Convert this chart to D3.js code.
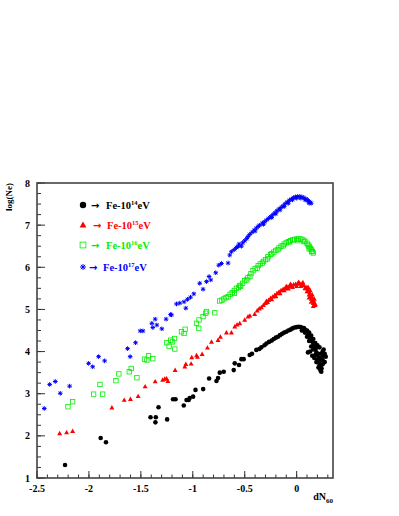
<!DOCTYPE html>
<html><head><meta charset="utf-8">
<script src="https://cdn.jsdelivr.net/npm/d3@7"></script>
<style>body{margin:0;background:#fff}svg{display:block}text{font-family:"Liberation Serif","Times New Roman",serif;font-weight:bold}</style>
</head><body>
<script>
// ---- data ----
const xTicks = [-2.5, -2, -1.5, -1, -0.5, 0];
const xTickLabels = ["-2.5", "-2", "-1.5", "-1", "-0.5", "0"];
const yTicks = [1, 2, 3, 4, 5, 6, 7, 8];
const yTickLabels = ["1", "2", "3", "4", "5", "6", "7", "8"];
const seriesNames = ["14", "15", "16", "17"];
const seriesColors = ["#000000", "#ff0000", "#00ee00", "#0000ff"];

const fe14 = [[-2.23,1.31],[-1.887,1.95],[-1.836,1.85],[-1.407,2.44],[-1.356,2.44],[-1.36,2.32],[-1.33,2.68],[-1.247,2.39],[-1.19,2.87],[-1.166,2.87],[-1.087,2.72],[-1.06,2.85],[-1.04,2.85],[-1.03,2.9],[-0.997,2.93],[-0.974,3.09],
[-0.90,3.11],[-0.843,3.36],[-0.772,3.30],[-0.757,3.37],[-0.74,3.50],[-0.702,3.52],[-0.606,3.56],[-0.596,3.72],[-0.555,3.68],[-0.532,3.82],[-0.51,3.82],[-0.452,3.92],[-0.43,3.95],[-0.388,4.04],[-0.36,4.06],[-0.34,4.10],[-0.31,4.15],[-0.291,4.19],[-0.266,4.23],[-0.24,4.26],[-0.22,4.30],[-0.2,4.33],[-0.18,4.35],[-0.16,4.39],[-0.14,4.42],[-0.12,4.45],[-0.10,4.47],[-0.08,4.50],[-0.06,4.52],[-0.04,4.55],[-0.02,4.57],[0.0,4.58],[0.02,4.59],[0.04,4.58],[0.06,4.56],[0.08,4.52],[0.09,4.48],[0.10,4.45],[0.11,4.40],[0.12,4.36],[0.13,4.32],[0.14,4.28],[0.15,4.24],[0.16,4.18],[0.17,4.12],[0.18,4.05],[0.19,3.98],[0.20,3.92],[0.21,3.84],[0.22,3.76],[0.23,3.66],[0.237,3.52],[0.24,3.60],
[0.05,4.50],[0.08,4.45],[0.10,4.35],[0.12,4.25],[0.14,4.12],[0.16,4.05],[0.18,3.92],[0.2,3.80],[0.22,3.68],[0.109,3.98],[0.13,4.0],[0.15,3.9],[0.17,3.85],[0.19,3.75],[0.21,3.62],[0.23,3.55],[0.25,3.8],[0.26,3.9],[0.27,3.75],[0.28,3.88],[0.25,4.0],[0.26,4.05],[0.22,4.1],[0.2,4.15],[0.24,3.95],[0.18,4.2],[0.16,4.3],[0.14,4.38],[0.12,4.45],[0.1,4.5],[0.07,4.56],[0.27,3.95],[0.25,3.7],[0.23,3.85],[0.21,3.95],[0.19,4.1],[0.17,4.2]];

const fe15 = [[-2.282,2.06],[-2.215,2.08],[-2.157,2.11],[-1.779,2.67],[-1.66,2.85],[-1.6,2.87],[-1.526,2.94],[-1.459,3.17],[-1.362,3.29],[-1.29,3.33],[-1.27,3.35],[-1.253,3.36],[-1.24,3.30],[-1.17,3.56],[-1.077,3.64],[-1.067,3.70],[-1.016,3.71],[-1.01,3.86],[-0.964,3.91],[-0.955,3.87],[-0.91,3.94],[-0.859,4.09],[-0.82,4.23],[-0.757,4.27],[-0.734,4.35],[-0.676,4.45],[-0.628,4.45],[-0.596,4.59],[-0.574,4.64],[-0.548,4.67],[-0.50,4.75],[-0.468,4.83],[-0.45,4.85],[-0.404,4.89],[-0.38,4.97],
[-0.36,5.02],[-0.34,5.05],[-0.32,5.10],[-0.30,5.15],[-0.291,5.20],[-0.27,5.22],[-0.25,5.27],[-0.23,5.30],[-0.21,5.34],[-0.19,5.38],[-0.17,5.42],[-0.15,5.45],[-0.13,5.48],[-0.11,5.50],[-0.09,5.53],[-0.07,5.55],[-0.05,5.57],[-0.03,5.59],[-0.01,5.60],[0.01,5.61],[0.03,5.61],[0.05,5.60],[0.07,5.57],[0.09,5.53],[0.10,5.50],[0.11,5.46],[0.12,5.42],[0.13,5.37],[0.14,5.32],[0.15,5.27],[0.16,5.22],[0.17,5.16],[0.175,5.10],
[-0.28,5.17],[-0.24,5.24],[-0.2,5.31],[-0.16,5.38],[-0.12,5.45],[-0.08,5.49],[-0.04,5.53],[0.0,5.55],[0.04,5.55],[0.08,5.50],[0.1,5.43],[0.12,5.35],[0.14,5.25],[0.16,5.15],[0.18,5.12],[0.17,5.25],[0.15,5.35],[0.13,5.45],[0.11,5.53],[-0.1,5.55],[-0.06,5.60],[0.02,5.65],[0.06,5.64],[0.16,5.08],[0.14,5.18],[0.12,5.28]];

const fe16 = [[-2.202,2.69],[-2.157,2.81],[-1.955,2.99],[-1.868,2.99],[-1.894,3.22],[-1.74,3.31],[-1.712,3.47],[-1.612,3.52],[-1.593,3.60],[-1.538,3.38],[-1.465,3.82],[-1.442,3.80],[-1.426,3.90],[-1.385,3.83],[-1.25,4.21],[-1.228,4.13],[-1.212,4.27],[-1.195,4.23],[-1.176,4.31],[-1.173,4.06],[-1.109,4.47],[-1.084,4.43],[-1.074,4.53],[-0.964,4.67],[-0.942,4.55],[-0.94,4.75],[-0.901,4.83],[-0.875,4.91],[-0.868,4.95],[-0.788,4.92],[-0.74,5.20],
[-0.70,5.25],[-0.68,5.28],[-0.66,5.30],[-0.62,5.40],[-0.60,5.45],[-0.58,5.50],[-0.55,5.57],[-0.52,5.62],[-0.50,5.68],[-0.47,5.75],[-0.44,5.85],[-0.42,5.92],[-0.40,5.97],[-0.37,6.04],[-0.35,6.08],[-0.32,6.14],[-0.30,6.18],[-0.276,6.25],[-0.25,6.30],[-0.22,6.36],[-0.20,6.40],[-0.17,6.46],[-0.15,6.50],[-0.12,6.55],[-0.10,6.58],[-0.08,6.61],[-0.06,6.63],[-0.04,6.65],[-0.02,6.66],[0.0,6.67],[0.02,6.67],[0.04,6.67],[0.06,6.65],[0.08,6.62],[0.10,6.57],[0.12,6.50],[0.13,6.46],[0.14,6.42],[0.15,6.38],[0.16,6.34],
[-0.64,5.36],[-0.56,5.52],[-0.48,5.70],[-0.45,5.78],[-0.38,5.98],[-0.33,6.10],[-0.28,6.20],[-0.24,6.32],[-0.18,6.42],[-0.13,6.51],[-0.07,6.60],[0.01,6.63],[0.07,6.61],[0.11,6.53],[0.145,6.37],[0.12,6.44],[-0.72,5.22],[-0.6,5.38],[-0.54,5.55]];

const fe17 = [[-2.43,2.65],[-2.378,3.22],[-2.324,3.29],[-2.276,3.01],[-2.186,3.18],[-2.003,3.72],[-1.964,3.64],[-1.907,3.88],[-1.849,3.78],[-1.628,4.07],[-1.603,3.88],[-1.551,4.21],[-1.506,4.49],[-1.48,4.49],[-1.394,4.67],[-1.385,4.57],[-1.362,4.77],[-1.346,4.63],[-1.298,4.54],[-1.257,4.77],[-1.214,4.88],[-1.205,4.87],[-1.157,5.13],[-1.125,5.15],[-1.084,5.18],[-1.067,5.03],[-1.051,5.24],[-1.022,5.29],[-0.99,5.37],[-0.933,5.62],[-0.901,5.48],[-0.868,5.66],[-0.843,5.78],[-0.827,5.70],[-0.779,5.87],[-0.75,6.05],[-0.724,6.09],[-0.66,6.10],[-0.644,6.29],[-0.628,6.37],[-0.555,6.55],[-0.532,6.50],
[-0.60,6.42],[-0.58,6.47],[-0.50,6.63],[-0.468,6.73],[-0.452,6.78],[-0.43,6.83],[-0.41,6.88],[-0.388,6.93],[-0.37,6.97],[-0.356,7.00],[-0.33,7.05],[-0.308,7.08],[-0.29,7.12],[-0.27,7.16],[-0.25,7.20],[-0.228,7.25],[-0.21,7.29],[-0.19,7.34],[-0.17,7.38],[-0.15,7.42],[-0.13,7.46],[-0.11,7.51],[-0.09,7.55],[-0.07,7.59],[-0.05,7.62],[-0.03,7.65],[-0.01,7.67],[0.01,7.68],[0.03,7.68],[0.05,7.67],[0.07,7.65],[0.09,7.62],[0.10,7.60],[0.11,7.58],[0.12,7.56],[0.13,7.54],[0.14,7.52],
[-0.48,6.68],[-0.40,6.86],[-0.32,7.02],[-0.24,7.18],[-0.2,7.27],[-0.16,7.36],[-0.12,7.44],[-0.08,7.52],[-0.04,7.6],[0.0,7.64],[0.04,7.64],[0.08,7.6],[0.12,7.52],[-0.52,6.58],[-0.56,6.5]];

// ---- layout ----
const W = 399, H = 516;
const M = {left: 37, right: 333, top: 183, bottom: 478};
const svg = d3.select("body").append("svg").attr("width", W).attr("height", H);

const x = d3.scaleLinear().domain([-2.5, 0.35]).range([M.left, M.right]);
const y = d3.scaleLinear().domain([1, 8]).range([M.bottom, M.top]);

// minor ticks
const xMinor = d3.range(-25, 4).map(d => d / 10);
const yMinor = d3.range(4, 33).map(d => d / 4);

const gx = svg.append("g").attr("transform", `translate(0,${M.bottom})`);
gx.selectAll("line.mi").data(xMinor).join("line")
  .attr("x1", d => x(d)).attr("x2", d => x(d)).attr("y1", 0).attr("y2", -3.5)
  .attr("stroke", "#333").attr("stroke-width", 1);
gx.selectAll("line.ma").data(xTicks).join("line")
  .attr("x1", d => x(d)).attr("x2", d => x(d)).attr("y1", 0).attr("y2", -7)
  .attr("stroke", "#333").attr("stroke-width", 1);
gx.selectAll("text").data(xTicks).join("text")
  .attr("x", d => x(d)).attr("y", 14).attr("text-anchor", "middle")
  .attr("font-size", 10).text((d, i) => xTickLabels[i]);

const gy = svg.append("g").attr("transform", `translate(${M.left},0)`);
gy.selectAll("line.mi").data(yMinor).join("line")
  .attr("x1", 0).attr("x2", 4).attr("y1", d => y(d)).attr("y2", d => y(d))
  .attr("stroke", "#333").attr("stroke-width", 1);
gy.selectAll("line.ma").data(yTicks).join("line")
  .attr("x1", 0).attr("x2", 8).attr("y1", d => y(d)).attr("y2", d => y(d))
  .attr("stroke", "#333").attr("stroke-width", 1);
gy.selectAll("text").data(yTicks).join("text")
  .attr("x", -7).attr("y", d => y(d) + 3.5).attr("text-anchor", "end")
  .attr("font-size", 10).text((d, i) => yTickLabels[i]);

// frame
svg.append("rect").attr("x", M.left).attr("y", M.top)
  .attr("width", M.right - M.left).attr("height", M.bottom - M.top)
  .attr("fill", "none").attr("stroke", "#444").attr("stroke-width", 1.6);

// axis titles
svg.append("text").attr("transform", `translate(12,${M.top}) rotate(-90)`)
  .attr("text-anchor", "end").attr("font-size", 9).text("log(Ne)");
const xt = svg.append("text").attr("x", M.right).attr("y", 500).attr("text-anchor", "end").attr("font-size", 10);
xt.append("tspan").text("dN");
xt.append("tspan").attr("font-size", 7).attr("dy", 2.5).text("60");

// markers
function drawCircle(g, cx, cy, r, c) {
  g.append("circle").attr("cx", cx).attr("cy", cy).attr("r", r).attr("fill", c);
}
function drawTri(g, cx, cy, s, c) {
  g.append("path").attr("d", `M${cx},${cy - s}L${cx + s * 0.95},${cy + s * 0.7}L${cx - s * 0.95},${cy + s * 0.7}Z`).attr("fill", c);
}
function drawSq(g, cx, cy, s, c) {
  g.append("rect").attr("x", cx - s).attr("y", cy - s).attr("width", 2 * s).attr("height", 2 * s)
    .attr("fill", "none").attr("stroke", c).attr("stroke-width", 0.8);
}
function drawStar(g, cx, cy, s, c) {
  const d = s * 0.72;
  g.append("path").attr("d",
    `M${cx - s},${cy}L${cx + s},${cy}M${cx},${cy - s}L${cx},${cy + s}M${cx - d},${cy - d}L${cx + d},${cy + d}M${cx - d},${cy + d}L${cx + d},${cy - d}`)
    .attr("stroke", c).attr("stroke-width", 1).attr("fill", "none");
}
const drawers = [drawCircle, drawTri, drawSq, drawStar];
const sizes = [2.3, 2.6, 2.2, 2.3];
const allSeries = [fe14, fe15, fe16, fe17];

const plot = svg.append("g");
allSeries.forEach((s, i) => {
  const g = plot.append("g");
  s.forEach(p => drawers[i](g, x(p[0]), y(p[1]), sizes[i], seriesColors[i]));
});

// legend
const legRows = [205, 225, 245, 267];
const legText = [106, 107, 106, 103];
const legArrow = [91, 93, 91, 89];
const legSizes = [3.2, 3.6, 2.9, 3.0];
const lg = svg.append("g");
seriesNames.forEach((n, i) => {
  drawers[i](lg, 83, legRows[i], legSizes[i], seriesColors[i]);
  lg.append("text").attr("x", legArrow[i]).attr("y", legRows[i] + 3.5)
    .attr("font-size", 10).attr("font-weight", "normal")
    .style("font-family", "'DejaVu Sans', sans-serif")
    .attr("fill", seriesColors[i]).text("\u2192");
  const t = lg.append("text").attr("x", legText[i]).attr("y", legRows[i] + 3.5)
    .attr("font-size", 10.5).attr("fill", seriesColors[i]);
  t.append("tspan").text("Fe-10");
  t.append("tspan").attr("font-size", 6.5).attr("dy", -4).text(n);
  t.append("tspan").attr("dy", 4).text("eV");
});
</script>
</body></html>
